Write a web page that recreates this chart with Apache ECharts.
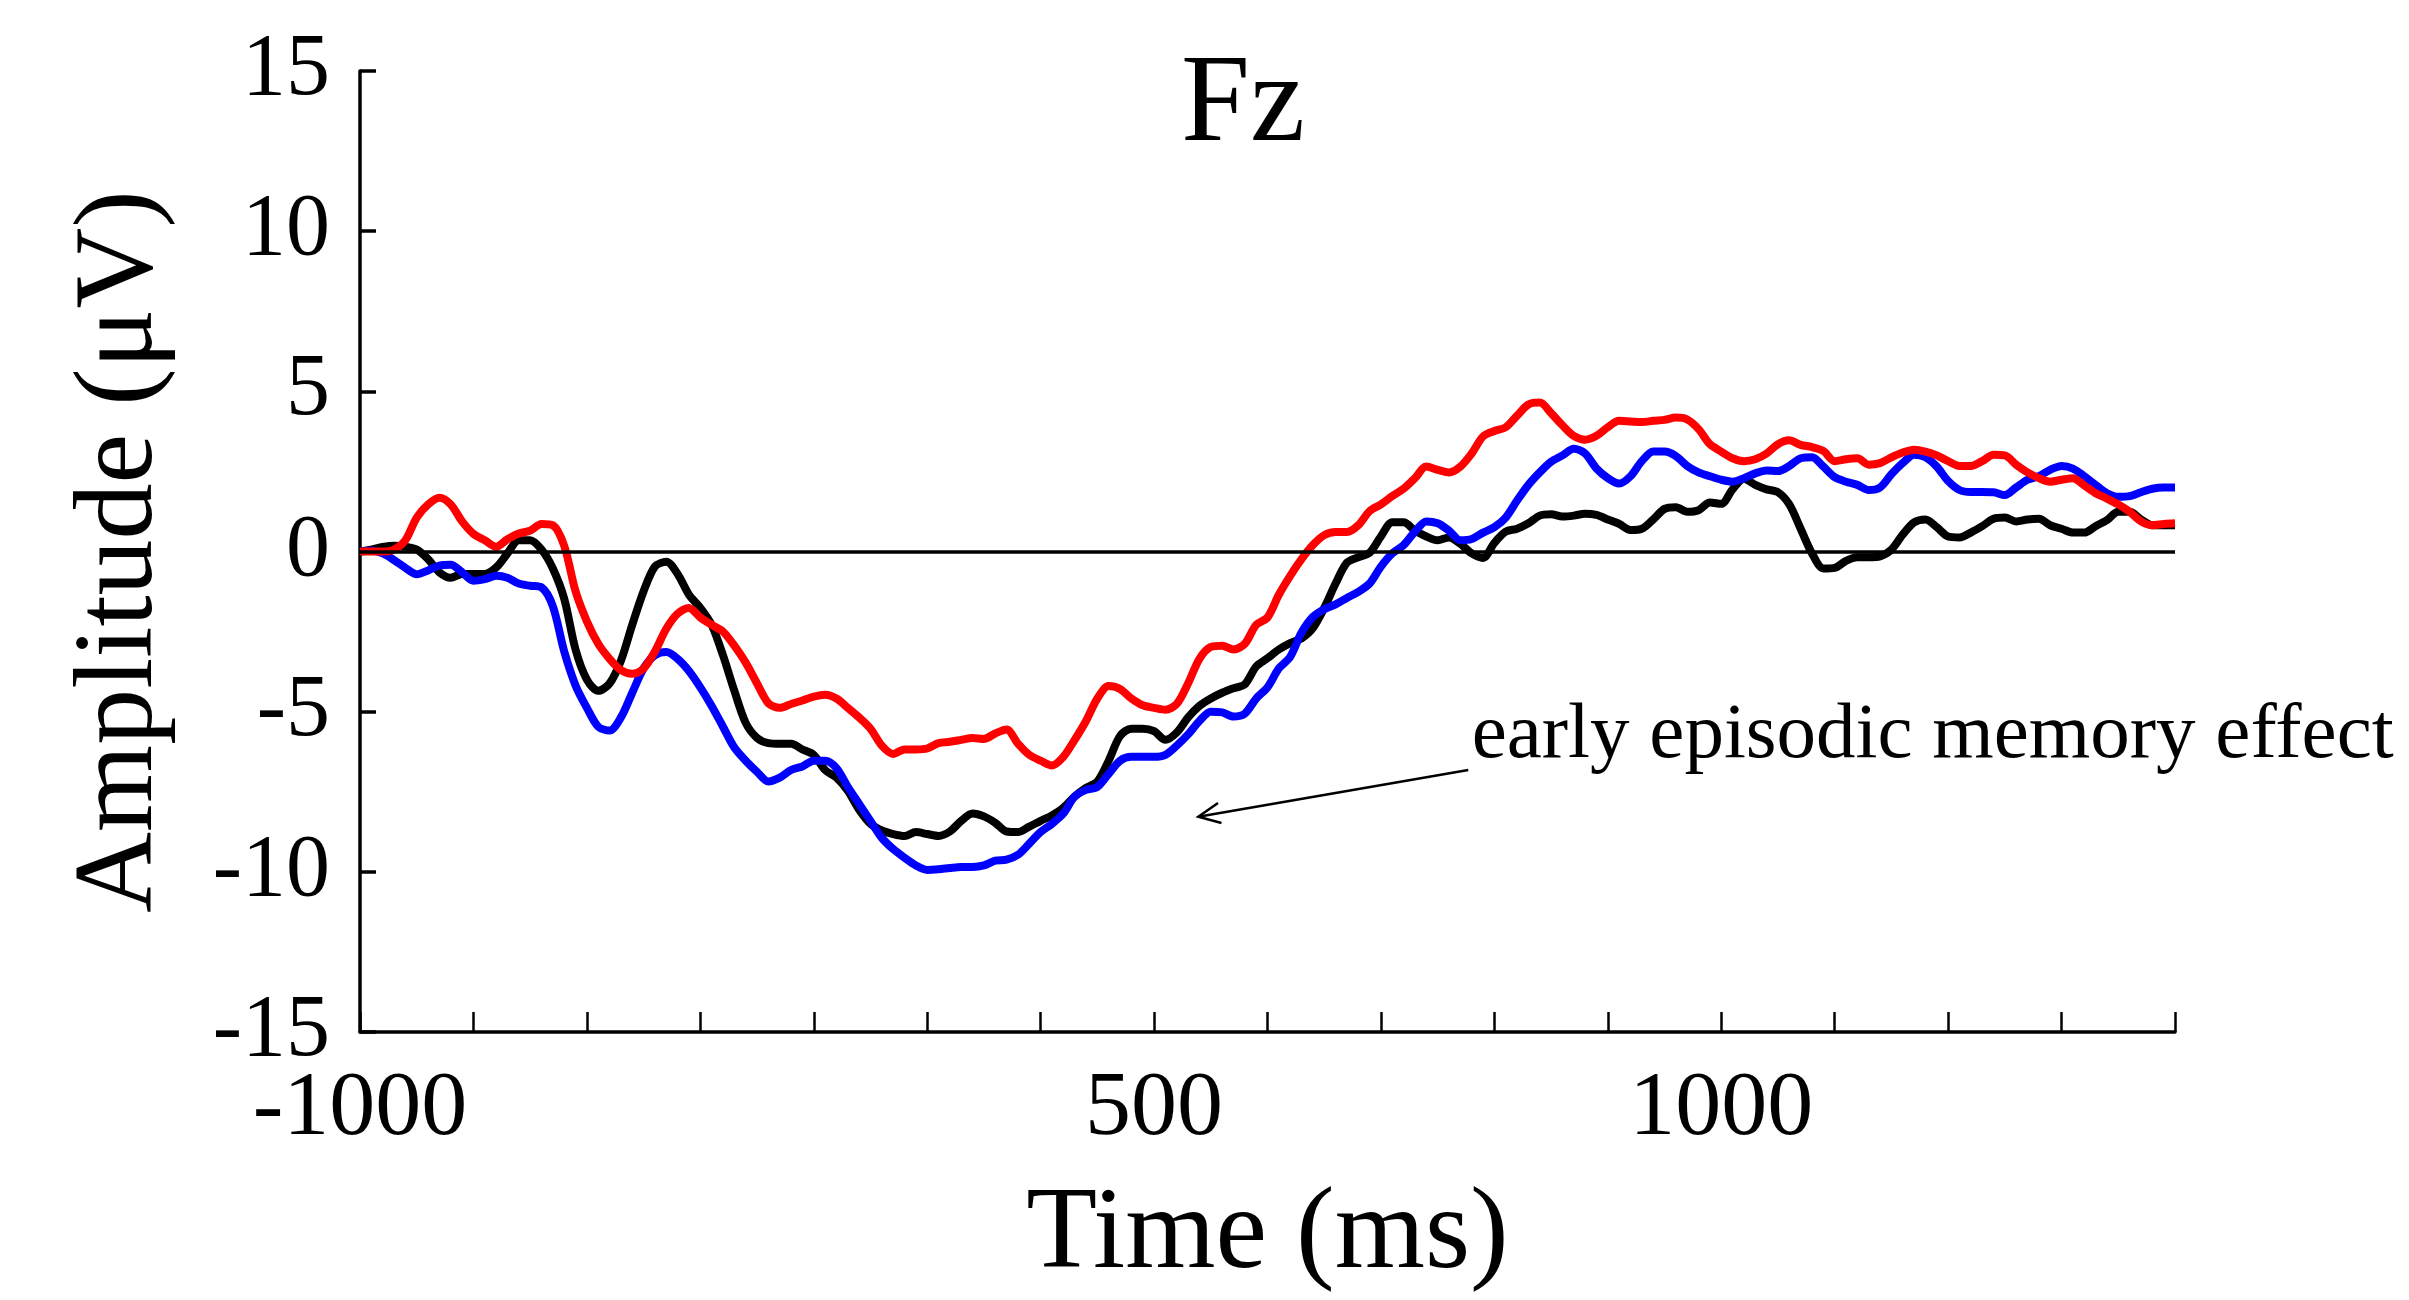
<!DOCTYPE html>
<html><head><meta charset="utf-8">
<script src="https://cdn.jsdelivr.net/npm/echarts@6/dist/echarts.min.js"></script>
<style>html,body{margin:0;padding:0;background:#fff}#c{width:2409px;height:1300px}</style>
</head><body><div id="c"></div>
<script>
// Time sampling: -200 ms to 1400 ms, every 10 ms
const timeStart = -200;
const timeStep = 10;

const blackValues = [
 0, 0.06, 0.14, 0.18, 0.15, 0.06, -0.24, -0.65, -0.82, -0.7,
 -0.7, -0.7, -0.5, -0.06, 0.35, 0.35, 0.06, -0.53, -1.47, -3.06,
 -4.0, -4.35, -4.12, -3.41, -2.29, -1.24, -0.47, -0.32, -0.7, -1.35,
 -1.76, -2.29, -3.24, -4.35, -5.35, -5.82, -5.98, -6.0, -6.0, -6.18,
 -6.35,
 -6.82, -7.06, -7.47, -8.06, -8.5, -8.71, -8.82, -8.88, -8.76, -8.82,
 -8.88, -8.74, -8.41, -8.18, -8.27, -8.47, -8.74, -8.76, -8.59, -8.41,
 -8.24, -8.0, -7.65, -7.38, -7.18, -6.53, -5.76, -5.53, -5.53, -5.61,
 -5.88, -5.65, -5.18, -4.82, -4.59, -4.41, -4.27, -4.15, -3.59,
 -3.33, -3.06, -2.86, -2.71, -2.39, -1.76, -1.0, -0.35, -0.18, -0.04,
 0.47, 0.91, 0.91, 0.65, 0.47, 0.35, 0.44, 0.24, -0.06, -0.2,
 0.27, 0.62, 0.71, 0.88, 1.12, 1.16, 1.09, 1.12, 1.18, 1.14,
 1.0, 0.86, 0.67, 0.71, 1.0, 1.33, 1.38, 1.24, 1.29, 1.53,
 1.49, 1.94, 2.27, 2.08, 1.94, 1.85, 1.47, 0.71, -0.06, -0.53,
 -0.51, -0.29, -0.18, -0.18, -0.15, 0.06, 0.53, 0.91, 1.0, 0.76,
 0.47, 0.44, 0.59, 0.79, 1.02, 1.06, 0.94, 1.0, 1.02, 0.82,
 0.71, 0.59, 0.59, 0.79, 0.98, 1.24, 1.24, 1.0, 0.82, 0.82,
 0.82
];

const blueValues = [
 0, 0.02, -0.06, -0.27, -0.51, -0.71, -0.59, -0.44, -0.41, -0.65,
 -0.91, -0.86, -0.76, -0.82, -1.0, -1.07, -1.12, -1.71, -3.12, -4.18,
 -4.88, -5.47, -5.59, -5.18, -4.41, -3.65, -3.24, -3.14, -3.35, -3.73,
 -4.24, -4.82, -5.47, -6.12, -6.53, -6.88, -7.18, -7.06, -6.82, -6.71,
 -6.53,
 -6.53, -6.76, -7.35, -7.88, -8.41, -8.94, -9.29, -9.56, -9.8, -9.94,
 -9.92, -9.88, -9.85, -9.85, -9.8, -9.65, -9.62, -9.47, -9.12, -8.76,
 -8.5, -8.18, -7.65, -7.44, -7.35, -6.94, -6.53, -6.41, -6.41, -6.41,
 -6.35, -6.06, -5.71, -5.29, -5.0, -5.02, -5.15, -5.06, -4.59,
 -4.24, -3.65, -3.29, -2.53, -2.04, -1.8, -1.65, -1.45, -1.26, -1.0,
 -0.47, -0.06, 0.2, 0.62, 0.94, 0.88, 0.65, 0.35, 0.39, 0.59,
 0.76, 1.06, 1.59, 2.08, 2.47, 2.8, 3.0, 3.21, 3.06, 2.59,
 2.29, 2.12, 2.35, 2.82, 3.12, 3.12, 2.98, 2.67, 2.47, 2.35,
 2.24, 2.18, 2.29, 2.44, 2.53, 2.51, 2.67, 2.91, 2.94, 2.65,
 2.32, 2.18, 2.08, 1.92, 2.0, 2.41, 2.76, 3.02, 2.94, 2.65,
 2.2, 1.92, 1.86, 1.86, 1.85, 1.76, 2.0, 2.24, 2.35, 2.55,
 2.67, 2.59, 2.35, 2.08, 1.82, 1.71, 1.73, 1.85, 1.96, 2.0,
 2.0
];

const redValues = [
 0, 0, 0, 0.06, 0.35, 1.06, 1.47, 1.68, 1.47, 0.94,
 0.55, 0.35, 0.15, 0.38, 0.56, 0.65, 0.86, 0.82, 0.18, -1.24,
 -2.18, -2.88, -3.35, -3.7, -3.82, -3.65, -3.12, -2.41, -1.94, -1.76,
 -2.06, -2.29, -2.5, -2.94, -3.47, -4.12, -4.74, -4.88, -4.76, -4.65,
 -4.53,
 -4.47, -4.59, -4.88, -5.18, -5.53, -6.06, -6.32, -6.18, -6.18, -6.15,
 -5.98, -5.94, -5.88, -5.82, -5.85, -5.68, -5.56, -6.0, -6.35, -6.53,
 -6.68, -6.41, -5.88, -5.29, -4.59, -4.2, -4.29, -4.59, -4.8, -4.88,
 -4.94, -4.76, -4.12, -3.35, -2.98, -2.94, -3.06, -2.88, -2.29,
 -2.06, -1.35, -0.76, -0.24, 0.2, 0.51, 0.61, 0.61, 0.82, 1.26,
 1.47, 1.73, 1.96, 2.29, 2.65, 2.55, 2.47, 2.65, 3.06, 3.59,
 3.76, 3.88, 4.24, 4.59, 4.65, 4.32, 3.94, 3.61, 3.49, 3.61,
 3.88, 4.08, 4.06, 4.04, 4.08, 4.11, 4.18, 4.12, 3.82, 3.35,
 3.12, 2.91, 2.82, 2.88, 3.06, 3.35, 3.47, 3.33, 3.26, 3.14,
 2.82, 2.88, 2.91, 2.71, 2.76, 2.94, 3.09, 3.18, 3.12, 3.0,
 2.82, 2.67, 2.67, 2.82, 3.02, 3.0, 2.71, 2.47, 2.29, 2.18,
 2.24, 2.29, 2.06, 1.82, 1.65, 1.47, 1.24, 0.94, 0.82, 0.86,
 0.88
];

// Axis tick labels (x axis shows only three labels)
const xTickLabels = { '-200': '-1000', '500': '500', '1000': '1000' };
const yTickValues = [-15, -10, -5, 0, 5, 10, 15];

// Annotation (data coordinates)
const annotationText = 'early episodic memory effect';
const arrowFrom = [777, -6.82];
const arrowTo = [539, -8.28];
const annotationAnchor = [780, -7.0];

const FONT = '"Liberation Serif", "DejaVu Serif", serif';

function pairs(vals) { return vals.map((v, i) => [timeStart + i * timeStep, v]); }

const chart = echarts.init(document.getElementById('c'), null, { renderer: 'canvas' });

function lineSeries(name, color, vals, extra) {
  return Object.assign({
    name, type: 'line', data: pairs(vals), showSymbol: false, symbol: 'none',
    smooth: 0.3, lineStyle: { color, width: 8 }, itemStyle: { color }, silent: true
  }, extra || {});
}

chart.setOption({
  animation: false,
  backgroundColor: '#fff',
  title: {
    text: 'Fz', left: 1176, top: 40,
    textStyle: { fontFamily: FONT, fontSize: 124, fontWeight: 'normal', color: '#000' }
  },
  grid: { left: 360, right: 234, top: 71, bottom: 253, containLabel: false },
  xAxis: {
    type: 'value', min: -200, max: 1400, interval: 100,
    axisLine: { show: true, onZero: false, lineStyle: { color: '#000', width: 3.5 } },
    axisTick: { show: true, inside: true, length: 20, lineStyle: { color: '#000', width: 2.5 } },
    axisLabel: {
      formatter: v => (xTickLabels[String(v)] !== undefined ? xTickLabels[String(v)] : ''),
      fontFamily: FONT, fontSize: 92, color: '#000', margin: 32,
      showMinLabel: true, showMaxLabel: true
    },
    splitLine: { show: false },
    name: 'Time (ms)', nameLocation: 'middle', nameGap: 147,
    nameTextStyle: { fontFamily: FONT, fontSize: 116, color: '#000' }
  },
  yAxis: {
    type: 'value', min: -15, max: 15, interval: 5,
    axisLine: { show: true, onZero: false, lineStyle: { color: '#000', width: 3.5 } },
    axisTick: { show: true, inside: true, length: 16, lineStyle: { color: '#000', width: 3.5 } },
    axisLabel: {
      formatter: v => (yTickValues.indexOf(v) >= 0 ? String(v) : ''),
      fontFamily: FONT, fontSize: 88, color: '#000', margin: 30
    },
    splitLine: { show: false },
    name: 'Amplitude (μV)', nameLocation: 'middle', nameGap: 182,
    nameTextStyle: { fontFamily: FONT, fontSize: 112, color: '#000' }
  },
  series: [
    lineSeries('black', '#000000', blackValues, {
      markLine: {
        silent: true, symbol: ['none', 'none'], label: { show: false },
        lineStyle: { color: '#000', width: 3.5, type: 'solid' },
        data: [{ yAxis: 0 }]
      }
    }),
    lineSeries('blue', '#0000ff', blueValues),
    lineSeries('red', '#ff0000', redValues)
  ]
});

// Annotation arrow and text, positioned from data coordinates
const p0 = chart.convertToPixel({ gridIndex: 0 }, arrowFrom);
const p1 = chart.convertToPixel({ gridIndex: 0 }, arrowTo);
const pa = chart.convertToPixel({ gridIndex: 0 }, annotationAnchor);
const dx = p0[0] - p1[0], dy = p0[1] - p1[1];
const len = Math.sqrt(dx * dx + dy * dy);
const ux = dx / len, uy = dy / len;
const ang = 25 * Math.PI / 180, wing = 24;
function rot(x, y, a) { return [x * Math.cos(a) - y * Math.sin(a), x * Math.sin(a) + y * Math.cos(a)]; }
const w1 = rot(ux, uy, ang), w2 = rot(ux, uy, -ang);

chart.setOption({
  graphic: [
    { type: 'line', silent: true, shape: { x1: p0[0], y1: p0[1], x2: p1[0], y2: p1[1] },
      style: { stroke: '#000', lineWidth: 2.5 } },
    { type: 'polyline', silent: true,
      shape: { points: [[p1[0] + w1[0] * wing, p1[1] + w1[1] * wing], [p1[0], p1[1]], [p1[0] + w2[0] * wing, p1[1] + w2[1] * wing]] },
      style: { stroke: '#000', lineWidth: 2.5, fill: null } },
    { type: 'text', silent: true, x: pa[0], y: pa[1],
      style: { text: annotationText, fontFamily: FONT, fontSize: 79, fill: '#000',
               textAlign: 'left', textVerticalAlign: 'bottom', verticalAlign: 'bottom' } }
  ]
});
</script>
</body></html>
